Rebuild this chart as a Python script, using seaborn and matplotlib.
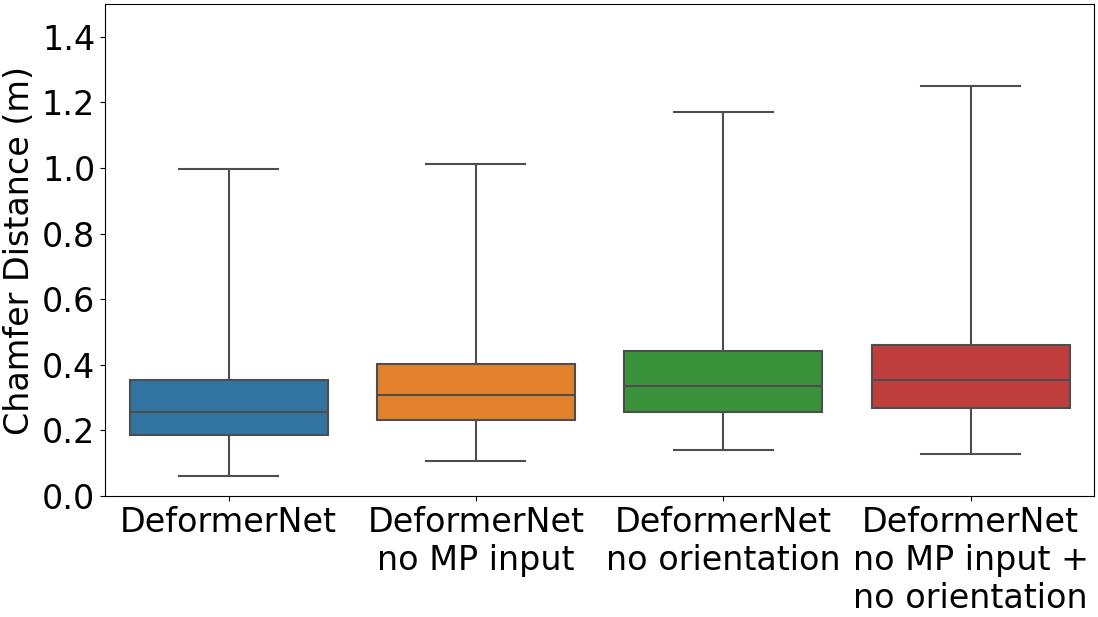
import matplotlib
matplotlib.use("Agg")
import matplotlib.pyplot as plt
import pandas as pd
import seaborn as sns

# five-number summaries (min, q1, median, q3, max)
methods = [
    "DeformerNet",
    "DeformerNet\nno MP input",
    "DeformerNet\nno orientation",
    "DeformerNet\nno MP input +\nno orientation",
]
deformernet = [0.061, 0.186, 0.256, 0.354, 0.998]
no_mp_input = [0.107, 0.231, 0.307, 0.404, 1.013]
no_orientation = [0.140, 0.256, 0.335, 0.441, 1.172]
no_mp_no_orientation = [0.128, 0.267, 0.353, 0.460, 1.251]

series = [deformernet, no_mp_input, no_orientation, no_mp_no_orientation]
frame = pd.DataFrame(
    [(name, value) for name, values in zip(methods, series) for value in values],
    columns=["method", "chamfer"],
)

fig = plt.figure(figsize=(10.98, 6.17), dpi=100)
ax = fig.add_axes([0.0956, 0.196, 0.901, 0.7975])

sns.boxplot(
    data=frame,
    x="method",
    y="chamfer",
    hue="method",
    palette="tab10",
    whis=(0, 100),
    linecolor=".3",
    linewidth=1.5,
    width=0.8,
    legend=False,
    ax=ax,
)

ax.set_ylim(0, 1.5)
ax.set_yticks([0.0, 0.2, 0.4, 0.6, 0.8, 1.0, 1.2, 1.4])
ax.set_xlabel("")
ax.set_ylabel("Chamfer Distance (m)", fontsize=24)
ax.tick_params(axis="both", labelsize=24)

fig.savefig("out.png", dpi=100)
